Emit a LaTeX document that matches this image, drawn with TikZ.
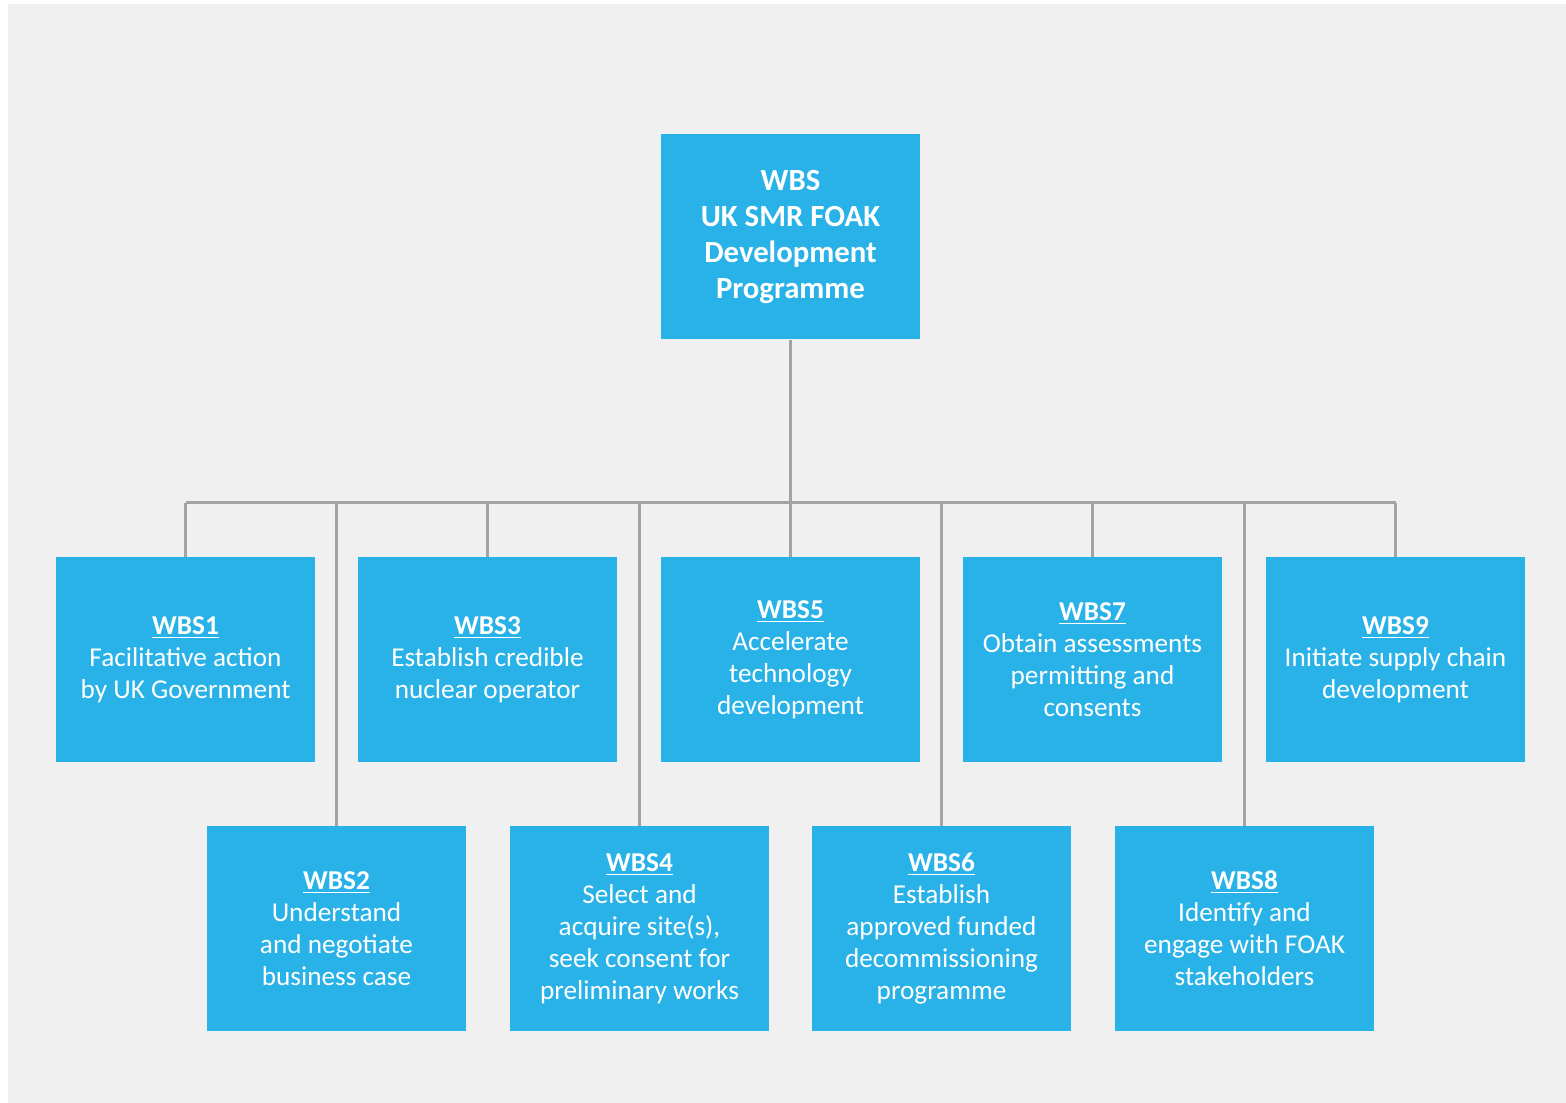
\documentclass[tikz,border=0pt]{standalone}
\usepackage{fontspec}
\setmainfont{Carlito}
\usetikzlibrary{positioning}
\definecolor{wbsblue}{HTML}{29B2E7}
\definecolor{wbsgray}{HTML}{A3A3A3}
\definecolor{pagegray}{HTML}{F0F0F0}
\newcommand{\wbstitle}[1]{\textbf{\underline{#1}}}

\begin{document}
\begin{tikzpicture}[
    font=\fontsize{15.5}{18.2}\selectfont,
    wbsbox/.style={fill=wbsblue, text=white, minimum width=5.18cm, minimum height=4.1cm, align=center, inner sep=2pt},
    rootbox/.style={wbsbox, font=\fontsize{17.5}{20.5}\selectfont\bfseries},
    link/.style={draw=wbsgray, line width=1.7pt},
]

    % =====================================================================
    % PAGE
    % =====================================================================
    \useasboundingbox (0,0) rectangle (31.32,22.06);
    \fill[white] (0,0) rectangle (31.32,22.06);
    \fill[pagegray] (0.16,0) rectangle (31.32,21.98);

    % =====================================================================
    % ROOT
    % =====================================================================
    \node[rootbox] (root) at (15.81, 17.32) {WBS\\UK SMR FOAK\\Development\\Programme};
    \coordinate (bus) at (0, 12.0);

    % =====================================================================
    % TOP ROW (odd packages)
    % =====================================================================
    \node[wbsbox] (w1) at (3.71, 8.87) {\wbstitle{WBS1}\\Facilitative action\\by UK Government};
    \node[wbsbox] (w3) at (9.75, 8.87) {\wbstitle{WBS3}\\Establish credible\\nuclear operator};
    \node[wbsbox] (w5) at (15.81, 8.87) {\wbstitle{WBS5}\\Accelerate\\technology\\development};
    \node[wbsbox] (w7) at (21.85, 8.87) {\wbstitle{WBS7}\\Obtain assessments\\permitting and\\consents};
    \node[wbsbox] (w9) at (27.91, 8.87) {\wbstitle{WBS9}\\Initiate supply chain\\development};

    % =====================================================================
    % BOTTOM ROW (even packages)
    % =====================================================================
    \node[wbsbox] (w2) at (6.73, 3.49) {\wbstitle{WBS2}\\Understand\\and negotiate\\business case};
    \node[wbsbox] (w4) at (12.79, 3.49) {\wbstitle{WBS4}\\Select and\\acquire site(s),\\seek consent for\\preliminary works};
    \node[wbsbox] (w6) at (18.83, 3.49) {\wbstitle{WBS6}\\Establish\\approved funded\\decommissioning\\programme};
    \node[wbsbox] (w8) at (24.89, 3.49) {\wbstitle{WBS8}\\Identify and\\engage with FOAK\\stakeholders};

    % Connectors
    \draw[link] (root.south) -- (root.south |- bus);
    \draw[link] (w1.north |- bus) -- (w9.north |- bus);
    \foreach \i in {1,...,9}
        \draw[link] (w\i.north) -- (w\i.north |- bus);

\end{tikzpicture}
\end{document}
